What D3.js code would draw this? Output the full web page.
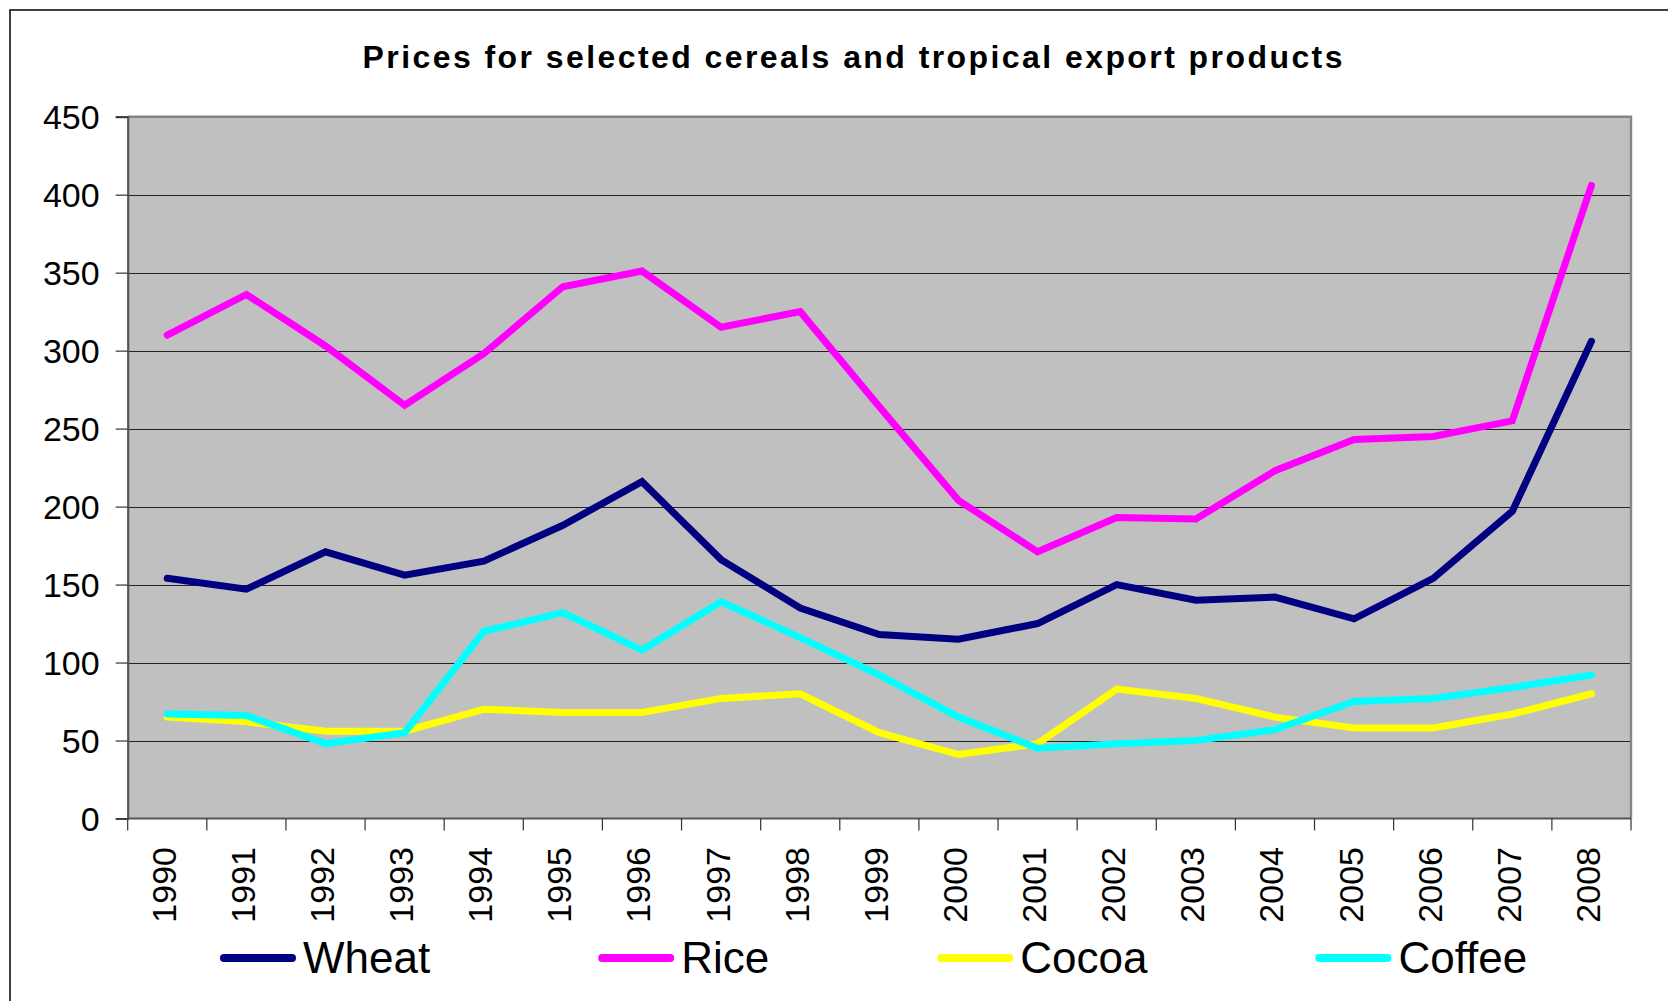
<!DOCTYPE html>
<html>
<head>
<meta charset="utf-8">
<script src="https://cdn.jsdelivr.net/npm/d3@7"></script>
<style>
  html, body { margin: 0; padding: 0; background: #fff; }
  svg { display: block; }
  text { font-family: "Liberation Sans", Arial, sans-serif; fill: #000; }
</style>
</head>
<body>
<svg id="chart" width="1668" height="1001"></svg>
<script>
const title = "Prices for selected cereals and tropical export products";
const years = ["1990","1991","1992","1993","1994","1995","1996","1997","1998","1999",
               "2000","2001","2002","2003","2004","2005","2006","2007","2008"];
const wheat  = [154, 147, 171, 156, 165, 188, 216, 166, 135, 118, 115, 125, 150, 140, 142, 128, 154, 197, 306];
const rice   = [310, 336, 303, 265, 298, 341, 351, 315, 325, 264, 204, 171, 193, 192, 223, 243, 245, 255, 406];
const cocoa  = [65, 62, 56, 56, 70, 68, 68, 77, 80, 55, 41, 48, 83, 77, 65, 58, 58, 67, 80];
const coffee = [67, 66, 48, 55, 120, 132, 108, 139, 116, 92, 65, 45, 48, 50, 57, 75, 77, 84, 92];
const seriesNames = ["Wheat", "Rice", "Cocoa", "Coffee"];
const seriesColors = ["#000080", "#FF00FF", "#FFFF00", "#00FFFF"];
const yTicks = [0, 50, 100, 150, 200, 250, 300, 350, 400, 450];

const series = [wheat, rice, cocoa, coffee].map((vals, i) => ({
  name: seriesNames[i], color: seriesColors[i], values: vals
}));

const svg = d3.select("#chart");
const plot = { left: 127.7, right: 1631, top: 116.7, bottom: 818.5 };

// outer frame
svg.append("rect").attr("x", 10).attr("y", 10).attr("width", 1700).attr("height", 1100)
  .attr("fill", "#fff").attr("stroke", "#111").attr("stroke-width", 1.6);

// title
svg.append("text").attr("x", 852.5).attr("y", 68)
  .attr("text-anchor", "middle").attr("font-size", 32).attr("font-weight", "bold")
  .attr("textLength", 980).attr("lengthAdjust", "spacing")
  .text(title);

const x = d3.scaleBand().domain(years).range([plot.left, plot.right]).padding(0);
const y = d3.scaleLinear().domain([0, 450]).range([plot.bottom, plot.top]);

// plot background
svg.append("rect").attr("x", plot.left).attr("y", plot.top)
  .attr("width", plot.right - plot.left).attr("height", plot.bottom - plot.top)
  .attr("fill", "#C0C0C0");

// gridlines
svg.append("g").selectAll("line").data(yTicks.filter(d => d > 0 && d < 450)).join("line")
  .attr("x1", plot.left).attr("x2", plot.right)
  .attr("y1", d => Math.round(y(d)) + 0.5).attr("y2", d => Math.round(y(d)) + 0.5)
  .attr("stroke", "#222").attr("stroke-width", 1.2);

// plot border (top/right gray)
svg.append("path")
  .attr("d", `M${plot.left},${plot.top}H${plot.right}V${plot.bottom}`)
  .attr("fill", "none").attr("stroke", "#858585").attr("stroke-width", 2.4);

// y axis
const yAxis = d3.axisLeft(y).tickValues(yTicks).tickSize(12).tickPadding(16).tickFormat(d3.format("d"));
const gy = svg.append("g").attr("transform", `translate(${plot.left},0)`).call(yAxis);
gy.select(".domain").attr("stroke", "#555").attr("stroke-width", 2.2);
gy.selectAll(".tick line").attr("stroke", "#333").attr("stroke-width", 1.2);
gy.selectAll(".tick text").attr("font-size", 34)
  .attr("font-family", '"Liberation Sans", Arial, sans-serif').attr("fill", "#000")
  .attr("dy", "0.34em");

// x axis: ticks at band boundaries
const gx = svg.append("g");
gx.append("line").attr("x1", plot.left).attr("x2", plot.right)
  .attr("y1", plot.bottom).attr("y2", plot.bottom)
  .attr("stroke", "#555").attr("stroke-width", 2.2);
const boundaries = years.map(d => x(d)).concat([x(years[years.length - 1]) + x.bandwidth()]);
gx.selectAll("line.tick").data(boundaries).join("line").attr("class", "tick")
  .attr("x1", d => d).attr("x2", d => d)
  .attr("y1", plot.bottom).attr("y2", plot.bottom + 12)
  .attr("stroke", "#333").attr("stroke-width", 1.2);
gx.selectAll("text").data(years).join("text")
  .attr("transform", d => `translate(${x(d) + x.bandwidth() / 2},847) rotate(-90)`)
  .attr("text-anchor", "end").attr("dy", 8.5).attr("font-size", 34)
  .text(d => d);

// lines
const line = d3.line()
  .x((d, i) => x(years[i]) + x.bandwidth() / 2)
  .y(d => y(d));
svg.append("g").selectAll("path").data(series).join("path")
  .attr("d", s => line(s.values))
  .attr("fill", "none").attr("stroke", s => s.color)
  .attr("stroke-width", 7).attr("stroke-linecap", "round").attr("stroke-linejoin", "miter");

// legend
const legend = svg.append("g");
let lx = 220;
const ly = 958;
series.forEach(s => {
  legend.append("line").attr("x1", lx + 4).attr("x2", lx + 72)
    .attr("y1", ly).attr("y2", ly)
    .attr("stroke", s.color).attr("stroke-width", 8).attr("stroke-linecap", "round");
  const t = legend.append("text").attr("x", lx + 83).attr("y", 973)
    .attr("font-size", 44).text(s.name);
  const w = t.node().getComputedTextLength();
  lx = lx + 83 + w + 168;
});
</script>
</body>
</html>
